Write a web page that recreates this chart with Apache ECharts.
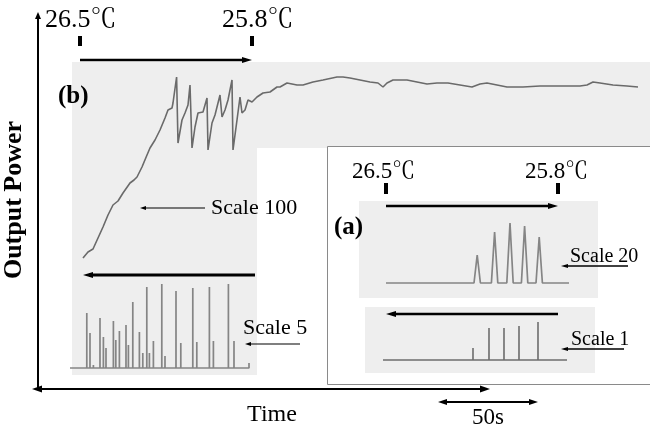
<!DOCTYPE html>
<html><head><meta charset="utf-8">
<script src="https://cdn.jsdelivr.net/npm/echarts@6/dist/echarts.min.js"></script>
<style>html,body{margin:0;padding:0;background:#fff}#c{width:650px;height:432px}</style>
</head><body><div id="c"></div>
<script>
// (b) Scale 100 trace: time (s) and output power (a.u.)
const mainTime  = [0,2.5,5,7.5,10,12.5,15,17.5,20,23.5,25.5,27,29.5,32,33.5,36,38.5,41,42.5,44.5,45,46.8,47.5,49.5,51,52.5,53.5,54.5,56,57.5,60,62,62.5,64.5,66,67.5,68.5,69.5,71,72.5,74.5,75,77,78.5,79.5,81,82.5,84.5,87,90,93.5,97,98.5,102,107,110,115,120,127,130,133.5,138.5,143.5,147.5,150,152,155,162,167,172,177,182.5,188.5,194.5,198.5,202,207,212,220,228.5,237,248.5,252,255,258.5,265,272,277.5];
const mainPower = [1,4,5.5,11,16.5,22.5,27.5,29.5,33.5,38.5,40,41.5,46.5,52.5,56,60,65,71,75,76,78.5,91.5,58.5,70,73.5,77.5,87.5,56,66.5,73.5,74,81,55,68.5,72.5,78.5,82.5,71.5,75,80,90,55,70,81.5,73.5,75,80,79,81.5,83.5,84,86.5,86.5,88.5,87.5,87.5,89,90,91.5,91.5,91,90,89,88.5,86.5,88.5,90,90,89,88,88.5,88.5,87.5,86.5,88,88.5,87.5,86.5,86.5,87,87,87,87.5,89,88.5,87.5,87,86.5];
// (b) Scale 5 spikes
const scale5Time   = [8.4,10,11.7,15,16.7,18,21.7,22.9,24.7,28,29.2,31.4,34.7,36.4,38.4,39.7,41.7,45.9,47.5,49.2,53,55.4,61.4,63.4,69.7,71.7,79.2,82];
const scale5Height = [55,35,3,50,31,20,47,28,37,43,23,66,36,15,81,15,27,84,12,2,77,25,80,26,81,27,84,27];
// (a) Scale 20 peaks
const scale20Time   = [45.6,54.3,62,69.3,76.6];
const scale20Height = [28,51,60,57,46];
// (a) Scale 1 peaks
const scale1Time   = [45,53,60.5,68,77.5];
const scale1Height = [12,32,32,34,38];
// texts
const tempLabels  = ['26.5\u2103','25.8\u2103'];
const scaleLabels = ['Scale 100','Scale 5','Scale 20','Scale 1'];
const panelLabels = ['(b)','(a)'];
const axisLabels  = ['Output Power','Time','50s'];

const mainData = mainTime.map((t,i)=>[t,mainPower[i]]);
function spikeData(ts,hs,half,end){
  const d=[[0,0]];
  ts.forEach((t,i)=>{d.push([t-half,0],[t,hs[i]],[t+half,0]);});
  d.push([end,0]);
  return d;
}
const s5 = spikeData(scale5Time,scale5Height,0.01,89.5); s5.push([89.5,5]);
const s20 = spikeData(scale20Time,scale20Height,1.6,91.5);
const s1 = spikeData(scale1Time,scale1Height,0.01,92);

const SERIF = "'Liberation Serif','Times New Roman','Noto Serif CJK SC','Noto Sans CJK SC',serif";
const G=[];
function rect(x,y,w,h,fill,z,stroke){G.push({type:'rect',z:z,silent:true,shape:{x:x,y:y,width:w,height:h},style:{fill:fill,stroke:stroke||null,lineWidth:stroke?1:0}});}
function arrow(x1,y1,x2,y2,w,L,W,both){
  const dx=x2-x1,dy=y2-y1,len=Math.hypot(dx,dy),ux=dx/len,uy=dy/len,nx=-uy,ny=ux;
  const head=(tx,ty,sx,sy)=>G.push({type:'polygon',z:50,silent:true,shape:{points:[[tx,ty],[tx-sx*L+nx*W/2,ty-sy*L+ny*W/2],[tx-sx*L-nx*W/2,ty-sy*L-ny*W/2]]},style:{fill:'#000'}});
  const a1 = both? [x1+ux*L*0.6,y1+uy*L*0.6]:[x1,y1];
  G.push({type:'line',z:50,silent:true,shape:{x1:a1[0],y1:a1[1],x2:x2-ux*L*0.6,y2:y2-uy*L*0.6},style:{stroke:'#000',lineWidth:w}});
  head(x2,y2,ux,uy);
  if(both) head(x1,y1,-ux,-uy);
}
function tick(x,y1,y2){G.push({type:'line',z:50,silent:true,shape:{x1:x,y1:y1,x2:x,y2:y2},style:{stroke:'#000',lineWidth:4}});}
function text(s,x,y,size,bold,align,rot){
  G.push({type:'text',z:60,silent:true,x:x,y:y,rotation:rot||0,style:{text:s,x:0,y:0,fill:'#000',font:(bold?'bold ':'')+size+'px '+SERIF,textAlign:align||'left',textVerticalAlign:'middle',align:align||'left',verticalAlign:'middle'}});
}
// backgrounds
rect(72,62,590,86,'#eeeeee',-10);
rect(72,62,185,313,'#eeeeee',-10);
rect(327.5,146.5,330,238,'#ffffff',-9,'#8a8a8a');
rect(359,201,239,97,'#eeeeee',-8);
rect(365,307,230,66,'#eeeeee',-8);
// outer axes
arrow(38,388,38,12,2,7,6,false);
arrow(32,389,490,389,2.2,10,7,true);
arrow(438,402,538,402,2,9,6,true);
// top temperature marks
tick(80,36,46); tick(252,36,46);
arrow(80,60,252,60,2.5,10,6,false);
arrow(255,275,83,275,3,10,6,false);
arrow(205,208,140,208,1.2,6,4,false);
arrow(300,344,245,344,1.2,6,4,false);
// inset marks
tick(386,183,194); tick(558,183,194);
arrow(386,206,558,206,2.5,10,6,false);
arrow(558,314,386,314,2.5,10,6,false);
arrow(628,266,561,266,1.3,7,4,false);
arrow(624,349,561,349,1.3,7,4,false);
// texts
text(tempLabels[0],45,20,26,false);
text(tempLabels[1],222,20,26,false);
text(tempLabels[0],352,172,23,false);
text(tempLabels[1],525,172,23,false);
text(panelLabels[0],58,97,25,true);
text(panelLabels[1],334,228,25,true);
text(scaleLabels[0],211,208,22,false);
text(scaleLabels[1],243,328,22,false);
text(scaleLabels[2],570,257,20,false);
text(scaleLabels[3],571,340,20,false);
text(axisLabels[0],14,200,26,true,'center',Math.PI/2);
text(axisLabels[1],272,415,24,false,'center');
text(axisLabels[2],488,418,23,false,'center');

function ax(i,max){return {type:'value',gridIndex:i,min:0,max:max,show:false};}
const lineStyle=(c,w)=>({color:c,width:w});
const option={
  animation:false,
  grid:[
    {left:83,top:60,width:555,height:200},
    {left:70,top:268,width:180,height:100},
    {left:386,top:203,width:184,height:80},
    {left:383,top:310,width:184,height:50}
  ],
  xAxis:[ax(0,277.5),ax(1,90),ax(2,92),ax(3,92)],
  yAxis:[ax(0,100),ax(1,100),ax(2,80),ax(3,50)],
  series:[
    {type:'line',xAxisIndex:0,yAxisIndex:0,data:mainData,symbol:'none',clip:false,lineStyle:lineStyle('#6a6a6a',1.6)},
    {type:'line',xAxisIndex:1,yAxisIndex:1,data:s5,symbol:'none',clip:false,lineStyle:lineStyle('#858585',1.7)},
    {type:'line',xAxisIndex:2,yAxisIndex:2,data:s20,symbol:'none',clip:false,lineStyle:lineStyle('#858585',1.7)},
    {type:'line',xAxisIndex:3,yAxisIndex:3,data:s1,symbol:'none',clip:false,lineStyle:lineStyle('#6e6e6e',1.6)}
  ],
  graphic:G
};
echarts.init(document.getElementById('c'),null,{renderer:'canvas'}).setOption(option);
</script></body></html>
